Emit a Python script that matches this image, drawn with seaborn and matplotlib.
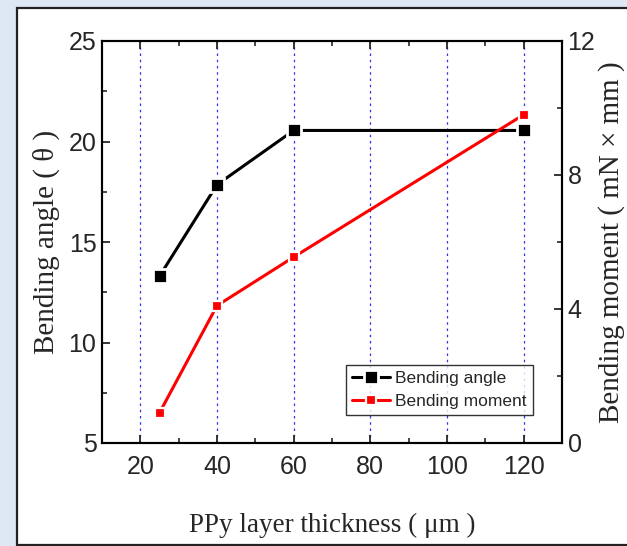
import matplotlib
matplotlib.use("Agg")
import matplotlib.pyplot as plt
import seaborn as sns
import pandas as pd
from matplotlib.patches import Rectangle
from matplotlib.ticker import MultipleLocator

thickness = [25, 40, 60, 120]
bending_angle = [13.3, 17.85, 20.55, 20.55]
bending_moment = [0.9, 4.1, 5.55, 9.8]
x_ticks = [20, 40, 60, 80, 100, 120]
left_ticks = [5, 10, 15, 20, 25]
right_ticks = [0, 4, 8, 12]

sns.set_style("ticks")
sans = ["Liberation Sans", "DejaVu Sans"]
serif = ["Liberation Serif", "DejaVu Serif"]
plt.rcParams["font.family"] = sans

df = pd.DataFrame({"thickness": thickness, "angle": bending_angle, "moment": bending_moment})

fig = plt.figure(figsize=(6.27, 5.46), dpi=100)
fig.patch.set_facecolor("#dde8f4")
panel = Rectangle((17 / 627, 1 / 546), 1.0, 537 / 546, transform=fig.transFigure,
                  facecolor="white", edgecolor="#222222", linewidth=1.6, zorder=-10)
fig.patches.append(panel)

ax = fig.add_axes([102 / 627, 103 / 546, 460 / 627, 402 / 546])
ax.set_facecolor("none")
ax2 = ax.twinx()
ax2.set_facecolor("none")

for xv in x_ticks:
    ax.axvline(xv, color="#3333ee", linestyle=(0, (2, 3)), linewidth=0.9, zorder=0)

sns.lineplot(data=df, x="thickness", y="angle", ax=ax, color="black", marker="s",
             markersize=10, markeredgecolor="white", markeredgewidth=2, linewidth=2.2,
             label="Bending angle", legend=False)
sns.lineplot(data=df, x="thickness", y="moment", ax=ax2, color="#ff0000", marker="s",
             markersize=7.5, markeredgecolor="white", markeredgewidth=1.6, linewidth=2.2,
             label="Bending moment", legend=False)

ax.set_xlim(10, 130)
ax.set_ylim(5, 25)
ax2.set_ylim(0, 12)
ax.set_xticks(x_ticks)
ax.set_yticks(left_ticks)
ax2.set_yticks(right_ticks)
ax.xaxis.set_minor_locator(MultipleLocator(10))
ax.yaxis.set_minor_locator(MultipleLocator(2.5))
ax2.yaxis.set_minor_locator(MultipleLocator(2))

for a in (ax, ax2):
    a.tick_params(which="major", direction="in", length=6, width=1.3, labelsize=18, pad=4)
    a.tick_params(which="minor", direction="in", length=3.5, width=1.2)
    for s in a.spines.values():
        s.set_linewidth(1.5)
        s.set_color("black")
ax.tick_params(top=True, which="both")
ax.tick_params(axis="x", pad=9)
ax.tick_params(axis="y", right=False, which="both")

ax.set_xlabel("PPy layer thickness ( μm )", fontsize=19.5, family=serif, labelpad=24)
ax.set_ylabel("Bending angle ( θ )", fontsize=21, family=serif, labelpad=6)
ax2.set_ylabel("Bending moment ( mN × mm )", fontsize=21, family=serif, labelpad=2)

h1, l1 = ax.get_legend_handles_labels()
h2, l2 = ax2.get_legend_handles_labels()
leg = ax2.legend(h1 + h2, l1 + l2, loc="lower right", bbox_to_anchor=(0.937, 0.07),
                 borderaxespad=0, fontsize=12.5, frameon=True, fancybox=False, edgecolor="black",
                 handlelength=2.2, handletextpad=0.3, borderpad=0.35, labelspacing=0.45)
leg.get_frame().set_linewidth(1.0)

fig.savefig("out.png", dpi=100, facecolor=fig.get_facecolor())
